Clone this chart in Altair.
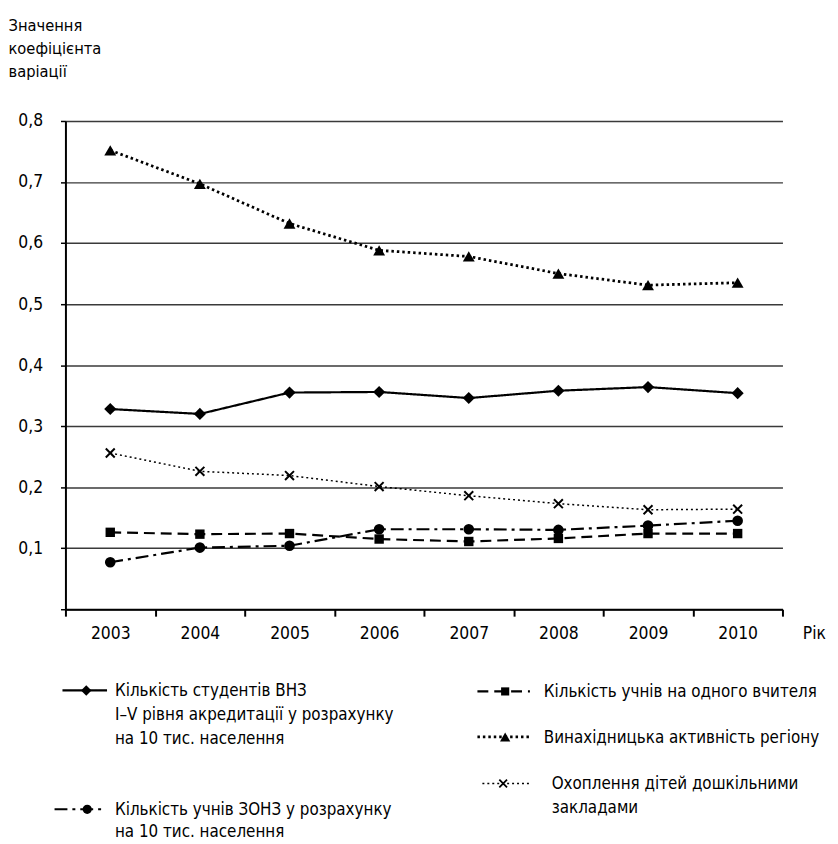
import altair as alt
import pandas as pd

FONT = "DejaVu Sans Condensed, Liberation Sans Narrow, sans-serif"

years = ["2003", "2004", "2005", "2006", "2007", "2008", "2009", "2010"]

students_vnz = [0.328, 0.320, 0.355, 0.356, 0.346, 0.358, 0.364, 0.354]
pupils_zonz = [0.077, 0.101, 0.104, 0.131, 0.131, 0.130, 0.137, 0.145]
pupils_per_teacher = [0.126, 0.123, 0.124, 0.115, 0.111, 0.116, 0.124, 0.124]
inventive_activity = [0.752, 0.697, 0.632, 0.588, 0.578, 0.550, 0.531, 0.535]
preschool_coverage = [0.256, 0.226, 0.219, 0.201, 0.186, 0.173, 0.163, 0.164]

series_names = [
    "Кількість студентів ВНЗ I–V рівня акредитації у розрахунку на 10 тис. населення",
    "Кількість учнів ЗОНЗ у розрахунку на 10 тис. населення",
    "Кількість учнів на одного вчителя",
    "Винахідницька активність регіону",
    "Охоплення дітей дошкільними закладами",
]
legend_lines = [
    ["Кількість студентів ВНЗ", "I–V рівня акредитації у розрахунку", "на 10 тис. населення"],
    ["Кількість учнів ЗОНЗ у розрахунку", "на 10 тис. населення"],
    ["Кількість учнів на одного вчителя"],
    ["Винахідницька активність регіону"],
    ["Охоплення дітей дошкільними", "закладами"],
]
series_values = [students_vnz, pupils_zonz, pupils_per_teacher, inventive_activity, preschool_coverage]

y_ticks = [0, 0.1, 0.2, 0.3, 0.4, 0.5, 0.6, 0.7, 0.8]

X_PATH = "M-1,-1L1,1M1,-1L-1,1"
styles = [
    dict(dash=[1, 0], width=2.2, shape="diamond", size=150, filled=True),
    dict(dash=[13, 5, 3, 5], width=2.2, shape="circle", size=115, filled=True),
    dict(dash=[11, 6], width=2.2, shape="square", size=90, filled=True),
    dict(dash=[2.5, 3], width=2.8, shape="triangle-up", size=144, filled=True),
    dict(dash=[2, 3], width=1.5, shape=X_PATH, size=81, filled=False),
]

# legend layout in plot pixel coordinates
legend_layout = [
    dict(x1=-3, x2=42, y=575, px=21, tx=50, lh=24),
    dict(x1=-11, x2=41, y=695, px=22, tx=50, lh=22),
    dict(x1=416, x2=469, y=576, px=444, tx=483, lh=24),
    dict(x1=416, x2=471, y=622, px=444, tx=483, lh=24),
    dict(x1=421, x2=471, y=669, px=442, tx=491, lh=24),
]

W, H = 724, 493
AX_FS = 17.5
LEG_FS = 17

x_enc = alt.X(
    "year:N",
    bandPosition=0.5,
    scale=alt.Scale(type="band", domain=years, paddingInner=0, paddingOuter=0),
    axis=alt.Axis(
        title="Рік", tickBand="extent", tickSize=7, tickWidth=2, tickColor="black",
        domainColor="black", domainWidth=2, labelAngle=0, labelPadding=9,
        labelFontSize=AX_FS, labelColor="black", labelFont=FONT,
        titleFont=FONT, titleFontSize=AX_FS, titleFontWeight="normal", titleColor="black",
        titleX=744, titleY=25, titleAlign="left", titleBaseline="middle", grid=False,
    ),
)
y_enc = alt.Y(
    "value:Q",
    scale=alt.Scale(domain=[0, 0.8], nice=False),
    axis=alt.Axis(
        title=["Значення", "коефіцієнта", "варіації"], values=y_ticks,
        tickSize=5, tickWidth=1.5, tickColor="black", domainColor="black", domainWidth=2,
        labelExpr="datum.value == 0 ? '' : replace(format(datum.value, '.1f'), '.', ',')",
        labelPadding=18, labelFontSize=AX_FS, labelColor="black", labelFont=FONT,
        grid=True, gridColor="#3a3a3a", gridWidth=1.5,
        titleAngle=0, titleAlign="left", titleBaseline="top", titleX=-58, titleY=-104,
        titleLineHeight=23, titleFont=FONT, titleFontSize=16.5, titleFontWeight="normal",
        titleColor="black",
    ),
)

layers = []
for name, vals, st in zip(series_names, series_values, styles):
    df = pd.DataFrame({"year": years, "value": vals, "series": name})
    base = alt.Chart(df)
    layers.append(
        base.mark_line(color="black", strokeDash=st["dash"], strokeWidth=st["width"]).encode(x=x_enc, y=y_enc)
    )
    pt_kwargs = dict(shape=st["shape"], size=st["size"], opacity=1)
    if st["filled"]:
        pt_kwargs.update(filled=True, color="black")
    else:
        pt_kwargs.update(filled=False, color="black", strokeWidth=2)
    layers.append(base.mark_point(**pt_kwargs).encode(x=x_enc, y=y_enc))

one = pd.DataFrame({"k": [0]})
for name, lines, st, lay in zip(series_names, legend_lines, styles, legend_layout):
    lb = alt.Chart(one)
    layers.append(
        lb.mark_rule(color="black", strokeDash=st["dash"], strokeWidth=st["width"]).encode(
            x=alt.value(lay["x1"]), x2=alt.value(lay["x2"]), y=alt.value(lay["y"])
        )
    )
    pt_kwargs = dict(shape=st["shape"], size=st["size"] * 0.75, opacity=1)
    if st["filled"]:
        pt_kwargs.update(filled=True, color="black")
    else:
        pt_kwargs.update(filled=False, color="black", strokeWidth=1.8)
    layers.append(lb.mark_point(**pt_kwargs).encode(x=alt.value(lay["px"]), y=alt.value(lay["y"])))
    layers.append(
        lb.mark_text(
            text=lines, align="left", baseline="alphabetic", font=FONT, fontSize=LEG_FS,
            lineHeight=lay["lh"], color="black",
        ).encode(x=alt.value(lay["tx"]), y=alt.value(lay["y"] + 6))
    )

chart = (
    alt.layer(*layers)
    .properties(
        width=W, height=H,
        padding={"left": 58, "top": 110, "right": 48, "bottom": 235},
        autosize=alt.AutoSizeParams(type="none"),
    )
    .configure_view(stroke=None)
)

chart.save("out.html", embed_options={"renderer": "svg", "actions": False})
